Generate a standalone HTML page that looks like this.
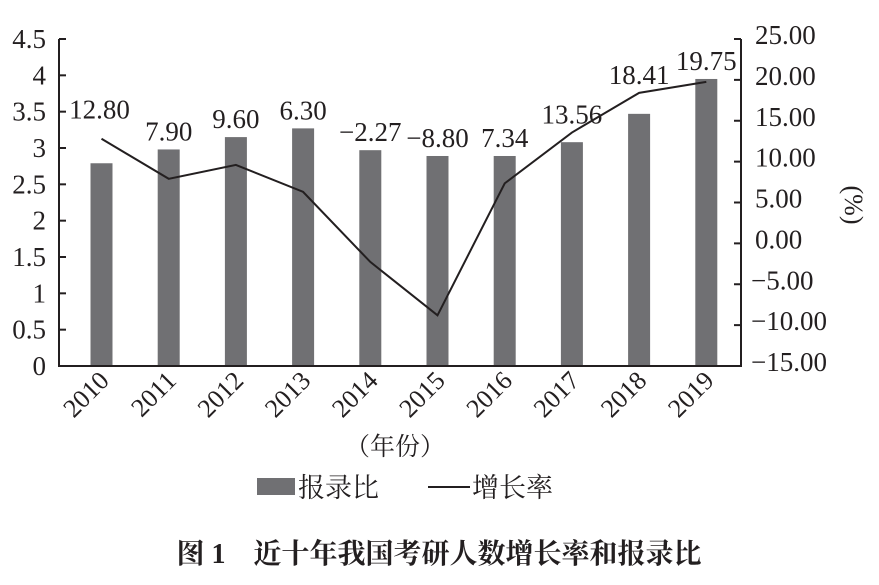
<!DOCTYPE html>
<html><head><meta charset="utf-8"><style>
body{margin:0;background:#fff;}
svg text{font-family:"Liberation Serif","Noto Serif CJK SC",serif;fill:#231f20;}
</style></head><body>
<svg id="chart" width="879" height="580" viewBox="0 0 879 580" xmlns="http://www.w3.org/2000/svg">
<g id="bars"></g><g id="axes"></g><g id="line"></g><g id="labels"></g>
<text x="395" y="455" font-size="25" text-anchor="middle">（年份）</text>
<rect x="257" y="478" width="38" height="17" fill="#707073"/>
<text x="298" y="497" font-size="27">报录比</text>
<line x1="428" y1="487" x2="470" y2="487" stroke="#231f20" stroke-width="2"/>
<text x="472" y="497" font-size="27">增长率</text>
<text x="439" y="563" font-size="28" font-weight="bold" text-anchor="middle">图 1　近十年我国考研人数增长率和报录比</text>
<text x="845" y="205" font-size="26" text-anchor="middle" transform="rotate(90 845 205)">(%)</text>
</svg>
<script>
const categories=["2010","2011","2012","2013","2014","2015","2016","2017","2018","2019"];
const ratioValues=[2.79,2.98,3.15,3.27,2.97,2.89,2.89,3.08,3.47,3.95];
const growthValues=[12.80,7.90,9.60,6.30,-2.27,-8.80,7.34,13.56,18.41,19.75];
const growthLabels=["12.80","7.90","9.60","6.30","−2.27","−8.80","7.34","13.56","18.41","19.75"];
const leftTicks=[0,0.5,1,1.5,2,2.5,3,3.5,4,4.5];
const leftTickLabels=["0","0.5","1","1.5","2","2.5","3","3.5","4","4.5"];
const rightTicks=[-15,-10,-5,0,5,10,15,20,25];
const rightTickLabels=["−15.00","−10.00","−5.00","0.00","5.00","10.00","15.00","20.00","25.00"];

const NS="http://www.w3.org/2000/svg";
const X0=59,X1=741,YB=366,YT=39;
const xC=i=>101.5+i*67.2;
const yL=v=>YB-(v-0)/4.5*(YB-YT);
const yR=v=>YB-(v+15)/40*(YB-YT);
function mk(tag,attrs,parent,txt){const e=document.createElementNS(NS,tag);for(const k in attrs)e.setAttribute(k,attrs[k]);if(txt!==undefined)e.textContent=txt;document.getElementById(parent).appendChild(e);return e;}

categories.forEach((c,i)=>{
  const r=mk('rect',{x:xC(i)-11,y:yL(ratioValues[i]),width:22,height:YB-yL(ratioValues[i]),fill:'#707073'},'bars');
  
  
  const cx=xC(i)+9,cy=YB+16;
  const t=mk('text',{x:cx,y:cy,'font-size':26,'text-anchor':'end',transform:`rotate(-45 ${cx} ${cy})`},'labels',c);
  
  
});
const ax=mk('path',{d:`M${X0} ${YT}V${YB}H${X1}V${YT}`,fill:'none',stroke:'#231f20','stroke-width':2},'axes');


leftTicks.forEach((v,i)=>{
  const l=mk('line',{x1:X0,x2:X0+7,y1:yL(v),y2:yL(v),stroke:'#231f20','stroke-width':2},'axes');
  
  
  const t=mk('text',{x:X0-13,y:yL(v)+9,'font-size':27,'text-anchor':'end'},'labels',leftTickLabels[i]);
  
  
});
rightTicks.forEach((v,i)=>{
  const l=mk('line',{x1:X1-7,x2:X1,y1:yR(v),y2:yR(v),stroke:'#231f20','stroke-width':2},'axes');
  
  
  const t=mk('text',{x:v<0?751:755,y:yR(v)+5,'font-size':27},'labels',rightTickLabels[i]);
  
  
});
const pts=growthValues.map((v,i)=>`${xC(i)},${yR(v)}`).join(' ');
const pl=mk('polyline',{points:pts,fill:'none',stroke:'#231f20','stroke-width':2},'line');


growthValues.forEach((v,i)=>{
  const top=Math.min(yR(v),yL(ratioValues[i]));
  const t=mk('text',{x:xC(i)+(i==0?-2:0),y:top-(i==0?20:9),'font-size':27,'text-anchor':'middle'},'labels',growthLabels[i]);
  
  
});
</script>
</body></html>
